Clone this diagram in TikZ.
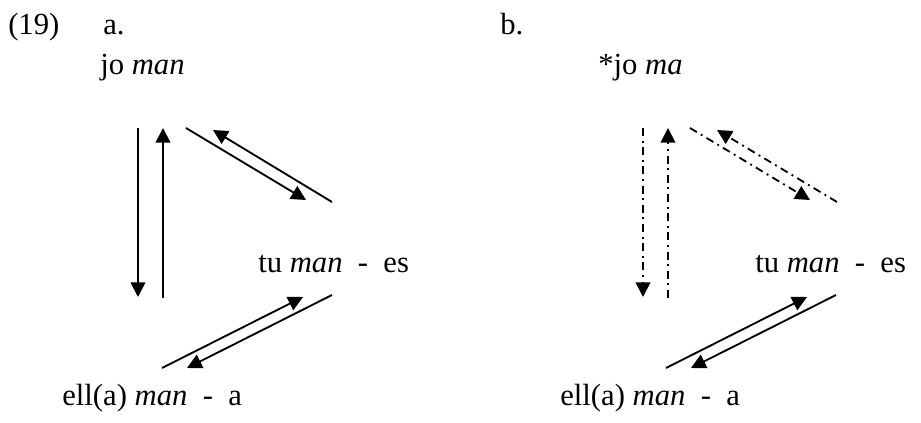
\documentclass[tikz,border=0pt]{standalone}
\usepackage{fontspec}
\setmainfont{Liberation Serif}
\usetikzlibrary{arrows.meta}
\tikzset{
  lbl/.style={anchor=base west, inner sep=0pt, font=\fontsize{23}{27}\selectfont},
  arr/.style={-{Triangle[length=11pt,width=11pt]}, line width=1.4pt},
  dashdot/.style={dash pattern=on 6pt off 3.5pt on 1.4pt off 3.5pt}
}
\begin{document}
\begin{tikzpicture}[x=0.75pt, y=-0.75pt]
\useasboundingbox (0,0) rectangle (921,423);
% labels
\node[lbl] (ex) at (8,35) {(19)};
\node[lbl] (pa) at (103,35) {a.};
\node[lbl] (pb) at (500,35) {b.};
\node[lbl] (joA) at (100,75) {jo \textit{man}};
\node[lbl] (tuA) at (258,273) {tu \textit{man}~~-~~es};
\node[lbl] (ellA) at (62,406) {ell(a) \textit{man}~~-~~a};
\node[lbl] (joB) at (598,75) {*jo \textit{ma}};
\node[lbl] (tuB) at (755,273) {tu \textit{man}~~-~~es};
\node[lbl] (ellB) at (560,406) {ell(a) \textit{man}~~-~~a};
% a.
\coordinate (a1) at (138,128); \coordinate (a2) at (138,297);
\coordinate (a3) at (163,298); \coordinate (a4) at (163,128);
\coordinate (a5) at (186,128); \coordinate (a6) at (306,200);
\coordinate (a7) at (332,202); \coordinate (a8) at (213,130);
\coordinate (a9) at (162,368); \coordinate (a10) at (303,297);
\coordinate (a11) at (332,295); \coordinate (a12) at (187,368);
\draw[arr] (a1)--(a2);
\draw[arr] (a3)--(a4);
\draw[arr] (a5)--(a6);
\draw[arr] (a7)--(a8);
\draw[arr] (a9)--(a10);
\draw[arr] (a11)--(a12);
% b.
\coordinate (b1) at (643,128); \coordinate (b2) at (643,297);
\coordinate (b3) at (668,298); \coordinate (b4) at (668,128);
\coordinate (b5) at (690,128); \coordinate (b6) at (810,200);
\coordinate (b7) at (837,202); \coordinate (b8) at (717,130);
\coordinate (b9) at (666,368); \coordinate (b10) at (807,297);
\coordinate (b11) at (836,295); \coordinate (b12) at (691,368);
\draw[arr,dashdot] (b1)--(b2);
\draw[arr,dashdot] (b3)--(b4);
\draw[arr,dashdot] (b5)--(b6);
\draw[arr,dashdot] (b7)--(b8);
\draw[arr] (b9)--(b10);
\draw[arr] (b11)--(b12);
\end{tikzpicture}
\end{document}
